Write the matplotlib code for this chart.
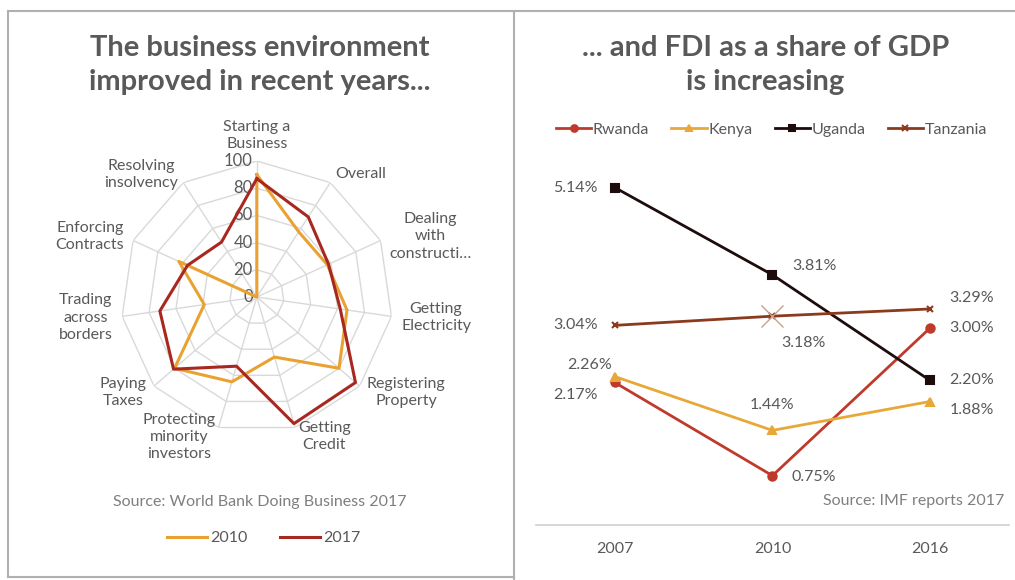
import numpy as np
import matplotlib
matplotlib.use("Agg")
from matplotlib import pyplot as plt
from matplotlib.lines import Line2D

plt.rcParams['font.family'] = ['Lato', 'DejaVu Sans']

# ---- radar data (World Bank Doing Business) ----
categories = ["Starting a\nBusiness", "Overall", "Dealing\nwith\nconstructi…",
              "Getting\nElectricity", "Registering\nProperty", "Getting\nCredit",
              "Protecting\nminority\ninvestors", "Paying\nTaxes", "Trading\nacross\nborders",
              "Enforcing\nContracts", "Resolving\ninsolvency"]
score_2010 = [90, 57, 57, 67, 80, 46, 65, 80, 39, 63, 0]
score_2017 = [87, 70, 58, 62, 96, 97, 53, 81, 72, 56, 48]
radial_ticks = [0, 20, 40, 60, 80, 100]

# ---- FDI data (IMF) ----
years = ["2007", "2010", "2016"]
rwanda = [2.17, 0.75, 3.00]
kenya = [2.26, 1.44, 1.88]
uganda = [5.14, 3.81, 2.20]
tanzania = [3.04, 3.18, 3.29]

GRAY = "#595959"
C2010 = "#E9A232"
C2017 = "#A82820"
FS = 11.5

fig = plt.figure(figsize=(10.15, 5.8), dpi=100)

# panel borders
for xs, ys in [([0.008, 1.0], [0.981, 0.981]), ([0.008, 0.008], [0.981, 0.005]),
               ([0.506, 0.506], [0.981, 0.0]), ([0.008, 0.506], [0.005, 0.005])]:
    fig.add_artist(Line2D(xs, ys, color="#b0b0b0", lw=1.5))

# ---------------- radar ----------------
ax = fig.add_axes([0.119, 0.2534, 0.268, 0.469], projection="polar")
n = len(categories)
ang = np.linspace(0, 2 * np.pi, n, endpoint=False)
angc = np.append(ang, ang[0])
ax.set_theta_zero_location("N")
ax.set_theta_direction(-1)
ax.set_ylim(0, 100)
ax.spines["polar"].set_visible(False)
ax.yaxis.grid(False)
ax.set_yticklabels([])
ax.set_xticks(ang)
ax.set_xticklabels([])
ax.xaxis.grid(True, color="#d9d9d9", lw=1)
for r in radial_ticks[1:]:
    ax.plot(angc, [r] * (n + 1), color="#d9d9d9", lw=1, zorder=1)
for r in radial_ticks:
    ax.annotate(str(r), (0, r), xytext=(-3, 0), textcoords="offset points",
                ha="right", va="center", fontsize=FS + 0.5, color=GRAY)
for a, lab in zip(ang, categories):
    s = np.sin(a)
    if abs(s) < 0.1:
        ha, va = "center", "bottom"
    else:
        ha, va = ("left" if s > 0 else "right"), "center"
    ax.annotate(lab, (a, 100), xytext=(7 * np.sin(a), 7 * np.cos(a)),
                textcoords="offset points", ha=ha, va=va, fontsize=FS,
                color=GRAY, linespacing=1.3, multialignment="center")
ax.plot(angc, score_2010 + score_2010[:1], color=C2010, lw=2.2, zorder=3, label="2010")
ax.plot(angc, score_2017 + score_2017[:1], color=C2017, lw=2.2, zorder=4, label="2017")

fig.text(0.256, 0.888, "The business environment\nimproved in recent years...",
         ha="center", va="center", fontsize=21, fontweight="bold", color=GRAY,
         linespacing=1.42)
fig.text(0.256, 0.135, "Source: World Bank Doing Business 2017", ha="center",
         va="center", fontsize=FS, color="#7f7f7f")
fig.legend(handles=ax.get_lines()[-2:], loc="center", bbox_to_anchor=(0.26, 0.072),
           ncol=2, frameon=False, fontsize=FS, handlelength=2.5, handletextpad=0.2,
           columnspacing=2.0, labelcolor=GRAY)

# ---------------- FDI lines ----------------
bx = fig.add_axes([0.528, 0.095, 0.466, 0.679])
x = np.arange(len(years))
series = [("Rwanda", rwanda, "#BF3A2B", "o", 6),
          ("Kenya", kenya, "#E8A838", "^", 6),
          ("Uganda", uganda, "#1E0C0C", "s", 6),
          ("Tanzania", tanzania, "#8B3A1E", "x", 5)]
for name, vals, col, mk, ms in series:
    bx.plot(x, vals, color=col, lw=2, marker=mk, ms=ms, mew=1.5, label=name)
bx.plot(x[1], tanzania[1], marker="x", ms=16, mew=1, color="#c9a08c", linestyle="none")

offsets = {
    "Rwanda": [(-12, -9, "right"), (14, -1, "left"), (14, 0, "left")],
    "Kenya": [(-18, 8, "center"), (0, 18, "center"), (14, -6, "left")],
    "Uganda": [(-12, 0, "right"), (14, 6, "left"), (14, 0, "left")],
    "Tanzania": [(-12, 0, "right"), (22, -19, "center"), (14, 8, "left")],
}
for name, vals, col, mk, ms in series:
    for xi, v, (dx, dy, ha) in zip(x, vals, offsets[name]):
        bx.annotate(f"{v:.2f}%", (xi, v), xytext=(dx, dy), textcoords="offset points",
                    ha=ha, va="center", fontsize=FS, color=GRAY)

bx.set_xlim(-0.5, 2.5)
bx.set_ylim(0, 6)
bx.set_xticks(x)
bx.set_xticklabels(years, fontsize=FS, color=GRAY)
bx.set_yticks([])
for s in ["top", "left", "right"]:
    bx.spines[s].set_visible(False)
bx.spines["bottom"].set_color("#d0d0d0")
bx.spines["bottom"].set_linewidth(1.2)
bx.tick_params(axis="x", length=0, pad=12)
bx.text(0.99, 0.06, "Source: IMF reports 2017", transform=bx.transAxes, ha="right",
        va="center", fontsize=FS, color="#7f7f7f")

fig.text(0.754, 0.888, "... and FDI as a share of GDP\nis increasing",
         ha="center", va="center", fontsize=21, fontweight="bold", color=GRAY,
         linespacing=1.42)
fig.legend(handles=bx.get_lines()[:4], loc="center", bbox_to_anchor=(0.76, 0.776),
           ncol=4, frameon=False, fontsize=FS, handlelength=2.2, handletextpad=0.1,
           columnspacing=1.4, labelcolor=GRAY, markerscale=0.8)

fig.savefig("out.png", dpi=100)
